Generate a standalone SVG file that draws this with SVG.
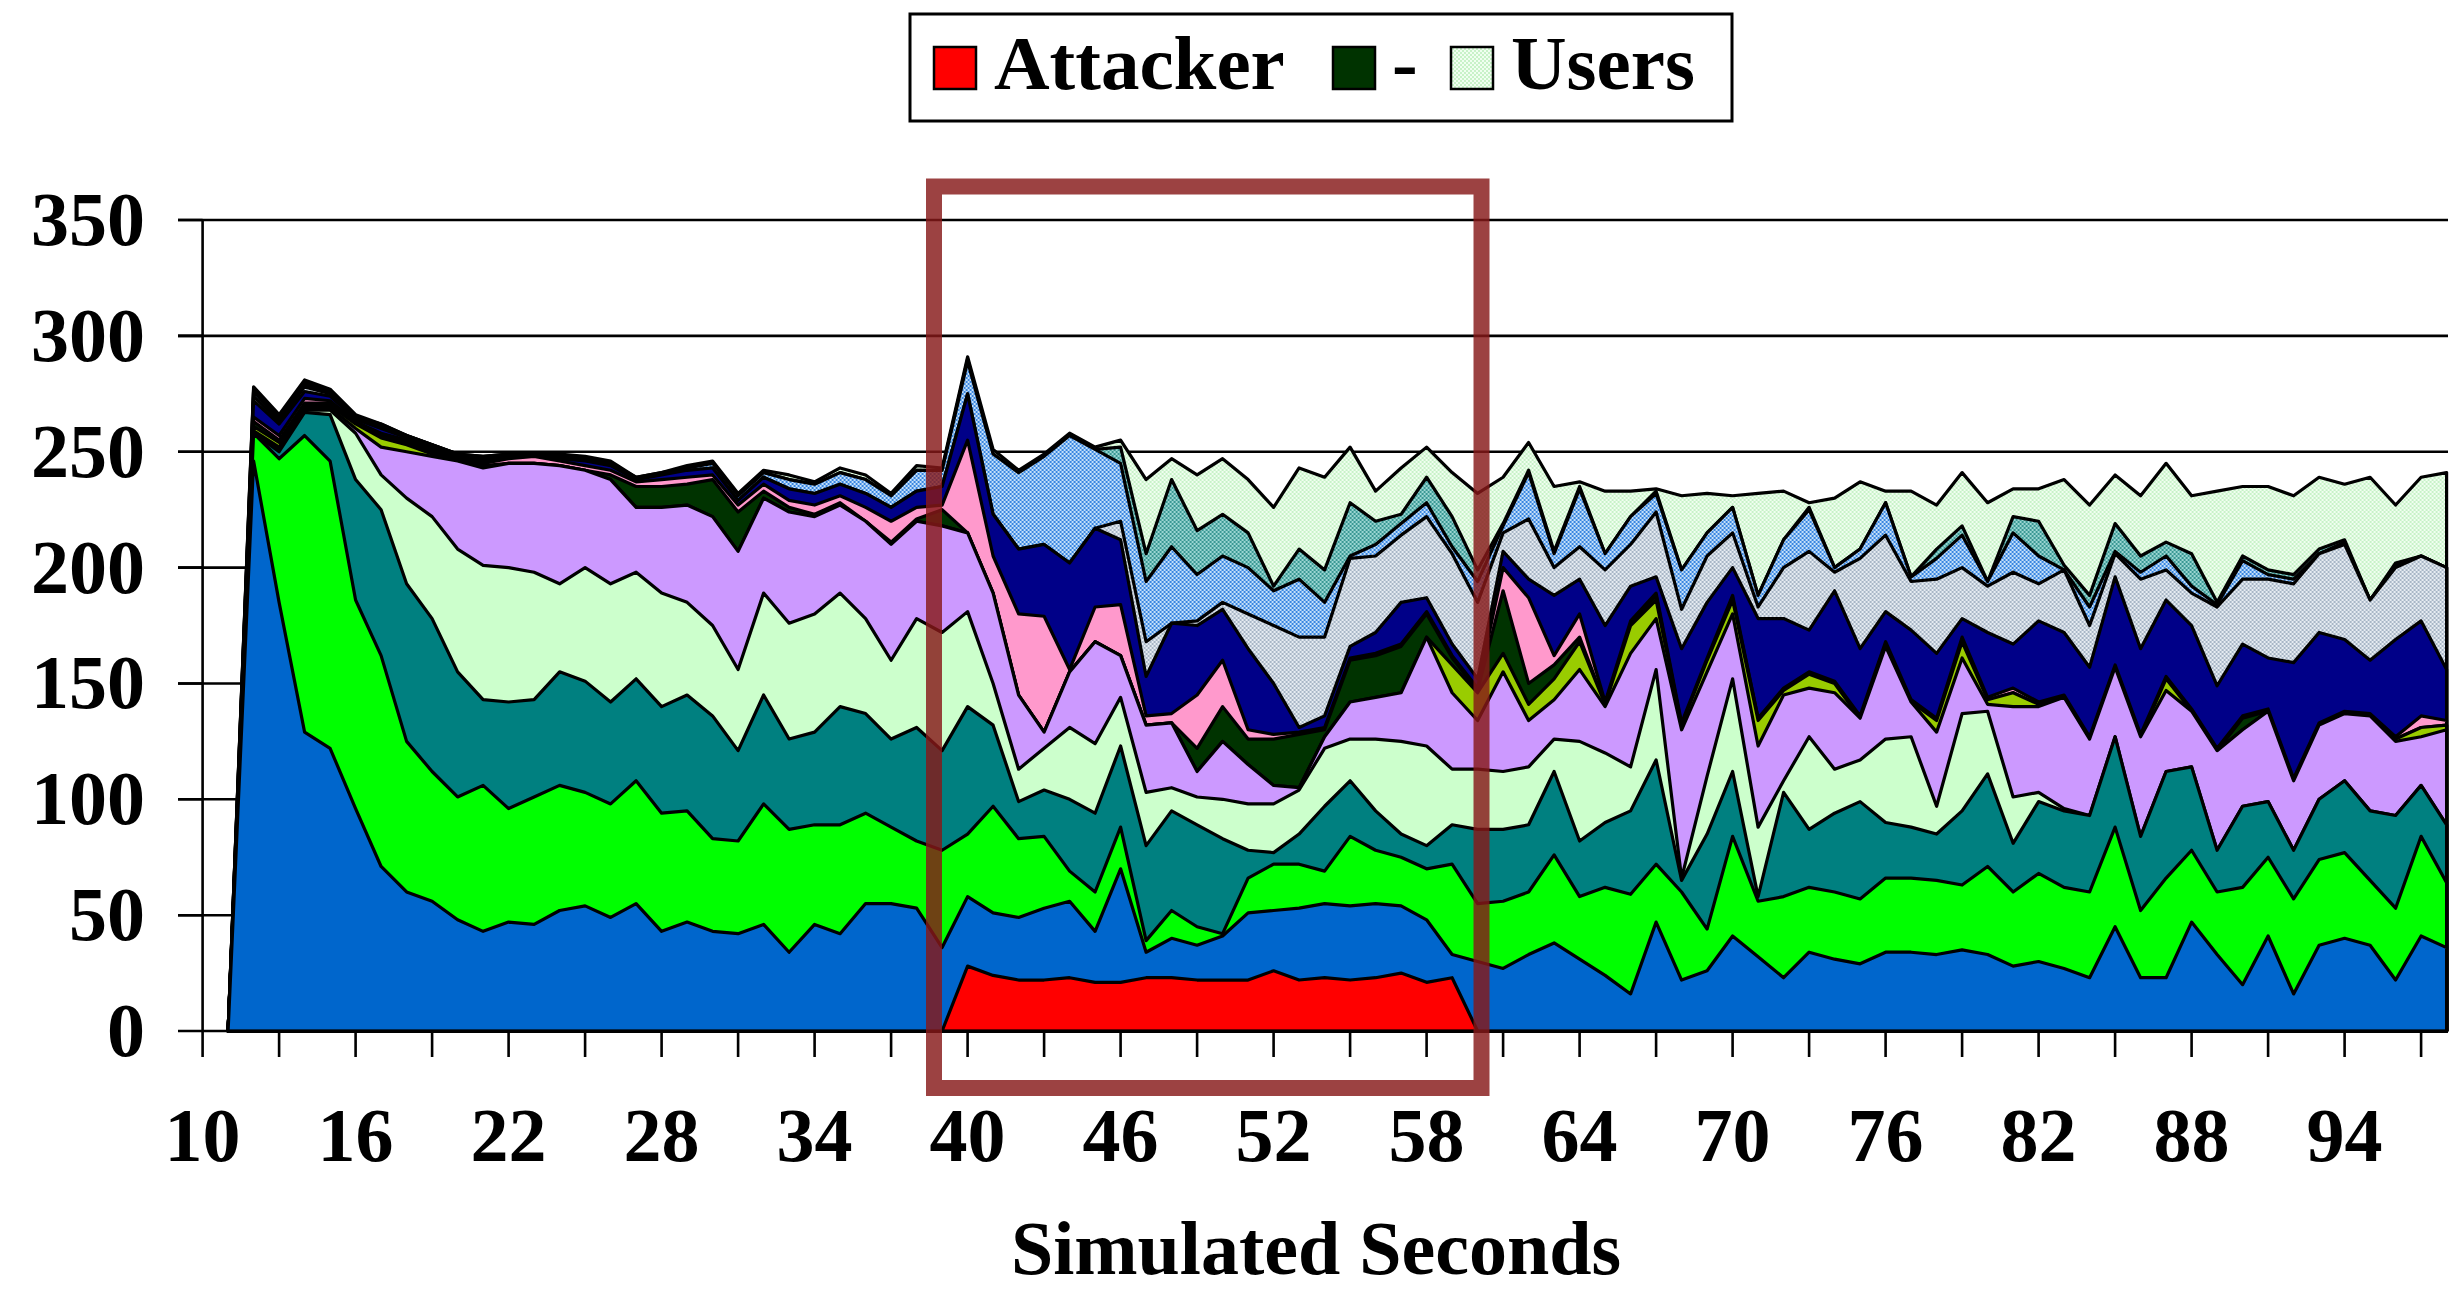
<svg xmlns="http://www.w3.org/2000/svg" width="2454" height="1292" viewBox="0 0 2454 1292">
<defs>
<style>
text{font-family:"Liberation Serif","Times New Roman",serif;font-weight:bold;fill:#000}
.ax{font-size:76px}
.lg{font-size:77px}
.ar{stroke:#000;stroke-width:3.2;stroke-linejoin:round}
.gl{stroke:#000;stroke-width:2.6;fill:none}
</style>
<pattern id="pUsers" patternUnits="userSpaceOnUse" width="4" height="4" patternTransform="scale(0.0392157,-0.4315926)"><rect width="4" height="4" fill="#F0FFF0"/><rect width="2" height="2" fill="#C8F2C8"/><rect x="2" y="2" width="2" height="2" fill="#C8F2C8"/></pattern>
<pattern id="pTeal" patternUnits="userSpaceOnUse" width="4" height="4" patternTransform="scale(0.0392157,-0.4315926)"><rect width="4" height="4" fill="#9AD6D2"/><rect width="2" height="2" fill="#3A9894"/><rect x="2" y="2" width="2" height="2" fill="#3A9894"/></pattern>
<pattern id="pBlue" patternUnits="userSpaceOnUse" width="4" height="4" patternTransform="scale(0.0392157,-0.4315926)"><rect width="4" height="4" fill="#C4E0FA"/><rect width="2" height="2" fill="#3A86E0"/><rect x="2" y="2" width="2" height="2" fill="#3A86E0"/></pattern>
<pattern id="pGray" patternUnits="userSpaceOnUse" width="4" height="4" patternTransform="scale(0.0392157,-0.4315926)"><rect width="4" height="4" fill="#E6ECF2"/><rect width="2" height="2" fill="#A8B6C6"/><rect x="2" y="2" width="2" height="2" fill="#A8B6C6"/></pattern>
<pattern id="pUsersL" patternUnits="userSpaceOnUse" width="4" height="4"><rect width="4" height="4" fill="#F0FFF0"/><rect width="2" height="2" fill="#C8F2C8"/><rect x="2" y="2" width="2" height="2" fill="#C8F2C8"/></pattern>
</defs>
<rect width="2454" height="1292" fill="#fff"/>

<g id="gridlines">
<path class="gl" d="M178,220H2448M178,335.9H2448M178,451.7H2448M178,567.6H2448M178,683.5H2448M178,799.3H2448M178,915.2H2448"/>
</g>

<g id="series" transform="translate(202.6,1031) scale(25.5,-2.317) translate(-10,0)">
<polygon id="s14" class="ar" vector-effect="non-scaling-stroke" fill="url(#pUsers)" points="11,0 12,278 13,266 14,281 15,277 16,266 17,262 18,257 19,253 20,249 21,248 22,249 23,249 24,249 25,248 26,246 27,239 28,241 29,244 30,246 31,232 32,242 33,240 34,237 35,243 36,240 37,232 38,244 39,243 40,291 41,251 42,242 43,249 44,258 45,252 46,255 47,238 48,247 49,240 50,247 51,238 52,226 53,243 54,239 55,252 56,233 57,243 58,252 59,241 60,232 61,239 62,254 63,235 64,237 65,233 66,233 67,234 68,231 69,232 70,231 71,232 72,233 73,228 74,230 75,237 76,233 77,233 78,227 79,241 80,228 81,234 82,234 83,238 84,227 85,240 86,231 87,245 88,231 89,233 90,235 91,235 92,231 93,239 94,236 95,239 96,227 97,239 98,241 98,0"/>
<polygon id="s13" class="ar" vector-effect="non-scaling-stroke" fill="url(#pTeal)" points="11,0 12,277 13,265 14,280 15,276 16,265 17,262 18,257 19,253 20,249 21,248 22,249 23,249 24,248 25,247 26,245 27,239 28,241 29,243 30,245 31,231 32,241 33,238 34,236 35,241 36,238 37,231 38,242 39,242 40,290 41,249 42,241 43,248 44,257 45,251 46,252 47,206 48,238 49,216 50,223 51,215 52,192 53,208 54,199 55,228 56,220 57,223 58,239 59,222 60,199 61,219 62,242 63,207 64,235 65,206 66,222 67,233 68,199 69,215 70,226 71,188 72,212 73,226 74,200 75,208 76,228 77,196 78,208 79,218 80,194 81,222 82,220 83,201 84,188 85,219 86,205 87,211 88,206 89,185 90,205 91,199 92,197 93,208 94,212 95,186 96,202 97,205 98,200 98,0"/>
<polygon id="s12" class="ar" vector-effect="non-scaling-stroke" fill="url(#pBlue)" points="11,0 12,276 13,264 14,279 15,276 16,265 17,261 18,257 19,253 20,249 21,247 22,248 23,248 24,248 25,247 26,245 27,238 28,240 29,243 30,245 31,231 32,241 33,238 34,236 35,241 36,238 37,231 38,242 39,242 40,289 41,249 42,241 43,248 44,257 45,251 46,245 47,194 48,209 49,197 50,205 51,200 52,190 53,195 54,185 55,205 56,210 57,219 58,228 59,209 60,194 61,218 62,241 63,206 64,234 65,206 66,222 67,232 68,199 69,215 70,226 71,188 72,212 73,225 74,200 75,208 76,228 77,196 78,204 79,214 80,194 81,215 82,205 83,199 84,183 85,207 86,198 87,205 88,192 89,184 90,203 91,197 92,195 93,206 94,211 95,186 96,201 97,205 98,200 98,0"/>
<polygon id="s11" class="ar" vector-effect="non-scaling-stroke" fill="url(#pGray)" points="11,0 12,274 13,263 14,278 15,275 16,265 17,261 18,256 19,252 20,248 21,247 22,248 23,248 24,247 25,246 26,244 27,238 28,240 29,242 30,243 31,229 32,239 33,234 34,232 35,236 36,232 37,226 38,233 39,235 40,275 41,223 42,208 43,210 44,202 45,217 46,220 47,168 48,176 49,177 50,185 51,180 52,175 53,170 54,170 55,204 56,205 57,214 58,222 59,206 60,185 61,215 62,221 63,200 64,209 65,199 66,210 67,224 68,182 69,205 70,215 71,183 72,200 73,207 74,198 75,204 76,214 77,194 78,195 79,200 80,192 81,198 82,193 83,199 84,175 85,206 86,195 87,199 88,189 89,183 90,195 91,195 92,193 93,206 94,210 95,186 96,200 97,205 98,200 98,0"/>
<polygon id="s10" class="ar" vector-effect="non-scaling-stroke" fill="#000088" points="11,0 12,272 13,262 14,276 15,274 16,264 17,260 18,256 19,252 20,248 21,246 22,248 23,248 24,247 25,246 26,244 27,238 28,240 29,242 30,243 31,229 32,239 33,234 34,232 35,236 36,232 37,226 38,233 39,235 40,275 41,223 42,208 43,210 44,202 45,217 46,212 47,153 48,176 49,175 50,182 51,165 52,150 53,131 54,136 55,166 56,172 57,185 58,187 59,167 60,152 61,207 62,195 63,188 64,195 65,175 66,192 67,196 68,165 69,185 70,200 71,178 72,178 73,173 74,190 75,165 76,181 77,173 78,163 79,178 80,172 81,167 82,177 83,172 84,157 85,196 86,165 87,186 88,175 89,149 90,167 91,161 92,159 93,172 94,169 95,160 96,169 97,177 98,156 98,0"/>
<polygon id="s9" class="ar" vector-effect="non-scaling-stroke" fill="#FF99CC" points="11,0 12,265 13,257 14,273 15,272 16,263 17,258 18,255 19,251 20,247 21,245 22,247 23,248 24,246 25,244 26,242 27,237 28,238 29,239 30,240 31,227 32,236 33,229 34,227 35,231 36,226 37,220 38,226 39,227 40,255 41,205 42,180 43,179 44,156 45,183 46,184 47,136 48,137 49,145 50,160 51,130 52,128 53,129 54,131 55,161 56,163 57,167 58,181 59,162 60,148 61,200 62,187 63,162 64,180 65,142 66,177 67,189 68,133 69,161 70,188 71,135 72,148 73,155 74,151 75,136 76,168 77,143 78,135 79,170 80,144 81,148 82,142 83,145 84,127 85,158 86,128 87,153 88,139 89,122 90,136 91,139 92,109 93,133 94,138 95,137 96,127 97,136 98,134 98,0"/>
<polygon id="s8" class="ar" vector-effect="non-scaling-stroke" fill="#003300" points="11,0 12,263 13,255 14,271 15,271 16,263 17,257 18,254 19,250 20,247 21,244 22,245 23,245 24,244 25,242 26,240 27,235 28,235 29,236 30,238 31,224 32,233 33,226 34,223 35,228 36,220 37,211 38,221 39,225 40,215 41,189 42,145 43,129 44,155 45,168 46,162 47,132 48,133 49,122 50,140 51,126 52,126 53,128 54,130 55,160 56,162 57,166 58,180 59,161 60,147 61,190 62,150 63,158 64,170 65,141 66,176 67,188 68,132 69,160 70,187 71,135 72,147 73,154 74,150 75,135 76,167 77,142 78,134 79,169 80,143 81,146 82,141 83,144 84,126 85,157 86,127 87,152 88,138 89,121 90,135 91,138 92,108 93,132 94,137 95,136 96,126 97,131 98,132 98,0"/>
<polygon id="s7" class="ar" vector-effect="non-scaling-stroke" fill="#99CC00" points="11,0 12,261 13,254 14,270 15,270 16,262 17,256 18,253 19,249 20,246 21,243 22,245 23,245 24,244 25,242 26,238 27,226 28,226 29,227 30,222 31,207 32,230 33,224 34,222 35,227 36,220 37,210 38,220 39,218 40,215 41,189 42,145 43,129 44,155 45,168 46,162 47,132 48,133 49,112 50,125 51,115 52,106 53,105 54,127 55,142 56,144 57,146 58,170 59,158 60,146 61,163 62,141 63,152 64,168 65,141 66,175 67,186 68,132 69,160 70,186 71,134 72,147 73,154 74,150 75,135 76,167 77,142 78,134 79,168 80,143 81,146 82,141 83,144 84,126 85,157 86,127 87,152 88,138 89,121 90,130 91,138 92,108 93,132 94,137 95,136 96,126 97,131 98,132 98,0"/>
<polygon id="s6" class="ar" vector-effect="non-scaling-stroke" fill="#CC99FF" points="11,0 12,259 13,252 14,269 15,269 16,260 17,252 18,250 19,248 20,246 21,243 22,245 23,245 24,244 25,242 26,238 27,226 28,226 29,227 30,222 31,207 32,230 33,224 34,222 35,227 36,220 37,210 38,220 39,218 40,215 41,189 42,145 43,129 44,155 45,168 46,162 47,132 48,133 49,112 50,125 51,115 52,106 53,105 54,127 55,142 56,144 57,146 58,170 59,146 60,134 61,155 62,134 63,143 64,156 65,140 66,163 67,178 68,130 69,155 70,180 71,123 72,145 73,148 74,146 75,135 76,166 77,142 78,129 79,161 80,141 81,140 82,140 83,144 84,126 85,157 86,127 87,147 88,138 89,121 90,130 91,138 92,108 93,132 94,137 95,136 96,125 97,127 98,130 98,0"/>
<polygon id="s5" class="ar" vector-effect="non-scaling-stroke" fill="#CCFFCC" points="11,0 12,258 13,251 14,268 15,268 16,258 17,240 18,230 19,222 20,208 21,201 22,200 23,198 24,193 25,200 26,193 27,198 28,189 29,185 30,175 31,156 32,189 33,176 34,180 35,189 36,178 37,160 38,178 39,172 40,181 41,150 42,113 43,122 44,131 45,124 46,144 47,103 48,105 49,101 50,100 51,98 52,98 53,104 54,122 55,126 56,126 57,125 58,123 59,113 60,113 61,112 62,114 63,126 64,125 65,120 66,114 67,156 68,66 69,110 70,152 71,88 72,108 73,127 74,113 75,117 76,126 77,127 78,97 79,137 80,138 81,101 82,103 83,96 84,93 85,127 86,84 87,112 88,114 89,78 90,97 91,99 92,78 93,100 94,108 95,95 96,93 97,106 98,89 98,0"/>
<polygon id="s4" class="ar" vector-effect="non-scaling-stroke" fill="#008080" points="11,0 12,258 13,250 14,267 15,266 16,238 17,225 18,193 19,178 20,155 21,143 22,142 23,143 24,155 25,151 26,142 27,152 28,140 29,145 30,136 31,121 32,145 33,126 34,129 35,140 36,137 37,126 38,131 39,121 40,140 41,132 42,99 43,104 44,100 45,94 46,123 47,80 48,95 49,89 50,83 51,78 52,77 53,85 54,97 55,108 56,95 57,85 58,80 59,89 60,87 61,87 62,89 63,112 64,82 65,90 66,95 67,117 68,65 69,85 70,112 71,58 72,103 73,87 74,94 75,99 76,90 77,88 78,85 79,95 80,111 81,81 82,99 83,95 84,93 85,127 86,84 87,112 88,114 89,78 90,97 91,99 92,78 93,100 94,108 95,95 96,93 97,106 98,89 98,0"/>
<polygon id="s3" class="ar" vector-effect="non-scaling-stroke" fill="#00FF00" points="11,0 12,258 13,247 14,257 15,246 16,186 17,162 18,125 19,112 20,101 21,106 22,96 23,101 24,106 25,103 26,98 27,108 28,94 29,95 30,83 31,82 32,98 33,87 34,89 35,89 36,94 37,88 38,82 39,78 40,85 41,97 42,83 43,84 44,69 45,60 46,88 47,39 48,52 49,45 50,42 51,66 52,72 53,72 54,69 55,84 56,78 57,75 58,70 59,72 60,55 61,56 62,60 63,76 64,58 65,62 66,59 67,72 68,60 69,44 70,84 71,56 72,58 73,62 74,60 75,57 76,66 77,66 78,65 79,63 80,71 81,60 82,68 83,62 84,60 85,88 86,52 87,66 88,78 89,60 90,62 91,75 92,57 93,74 94,77 95,65 96,53 97,84 98,64 98,0"/>
<polygon id="s2" class="ar" vector-effect="non-scaling-stroke" fill="#0066CC" points="11,0 12,246 13,185 14,129 15,122 16,96 17,71 18,60 19,56 20,48 21,43 22,47 23,46 24,52 25,54 26,49 27,55 28,43 29,47 30,43 31,42 32,46 33,34 34,46 35,42 36,55 37,55 38,53 39,36 40,58 41,51 42,49 43,53 44,56 45,43 46,70 47,34 48,40 49,37 50,41 51,51 52,52 53,53 54,55 55,54 56,55 57,54 58,48 59,33 60,30 61,27 62,33 63,38 64,31 65,24 66,16 67,47 68,22 69,26 70,41 71,32 72,23 73,34 74,31 75,29 76,34 77,34 78,33 79,35 80,33 81,28 82,30 83,27 84,23 85,45 86,23 87,23 88,47 89,33 90,20 91,41 92,16 93,37 94,40 95,37 96,22 97,41 98,36 98,0"/>
<polygon id="s1" class="ar" vector-effect="non-scaling-stroke" fill="#FF0000" points="39,0 40,28 41,24 42,22 43,22 44,23 45,21 46,21 47,23 48,23 49,22 50,22 51,22 52,26 53,22 54,23 55,22 56,23 57,25 58,21 59,23 60,0"/>
</g>

<g id="axes">
<path class="gl" d="M202.6,220V1057M178,1031H2448M178,220H202.6M178,335.9H202.6M178,451.7H202.6M178,567.6H202.6M178,683.5H202.6M178,799.3H202.6M178,915.2H202.6"/>
<path class="gl" d="M279.1,1031v26M355.6,1031v26M432.1,1031v26M508.6,1031v26M585.1,1031v26M661.6,1031v26M738.1,1031v26M814.6,1031v26M891.1,1031v26M967.6,1031v26M1044.1,1031v26M1120.6,1031v26M1197.1,1031v26M1273.6,1031v26M1350.1,1031v26M1426.6,1031v26M1503.1,1031v26M1579.6,1031v26M1656.1,1031v26M1732.6,1031v26M1809.1,1031v26M1885.6,1031v26M1962.1,1031v26M2038.6,1031v26M2115.1,1031v26M2191.6,1031v26M2268.1,1031v26M2344.6,1031v26M2421.1,1031v26"/>
<g class="ax" text-anchor="end">
<text x="145" y="245">350</text>
<text x="145" y="361">300</text>
<text x="145" y="477">250</text>
<text x="145" y="593">200</text>
<text x="145" y="708">150</text>
<text x="145" y="824">100</text>
<text x="145" y="940">50</text>
<text x="145" y="1056">0</text>
</g>
<g class="ax" text-anchor="middle">
<text x="202.6" y="1161">10</text>
<text x="355.6" y="1161">16</text>
<text x="508.6" y="1161">22</text>
<text x="661.6" y="1161">28</text>
<text x="814.6" y="1161">34</text>
<text x="967.6" y="1161">40</text>
<text x="1120.6" y="1161">46</text>
<text x="1273.6" y="1161">52</text>
<text x="1426.6" y="1161">58</text>
<text x="1579.6" y="1161">64</text>
<text x="1732.6" y="1161">70</text>
<text x="1885.6" y="1161">76</text>
<text x="2038.6" y="1161">82</text>
<text x="2191.6" y="1161">88</text>
<text x="2344.6" y="1161">94</text>
</g>
<text x="1316" y="1274" text-anchor="middle" style="font-size:76px">Simulated Seconds</text>
</g>

<g id="highlight">
<rect x="934" y="186.5" width="547.5" height="901.5" fill="none" stroke="#861818" stroke-opacity="0.82" stroke-width="16"/>
</g>

<g id="legend">
<rect x="910" y="14" width="822" height="107" fill="#fff" stroke="#000" stroke-width="3"/>
<rect x="934" y="47" width="42" height="42" fill="#FF0000" stroke="#000" stroke-width="2.5"/>
<text class="lg" x="994" y="89">Attacker</text>
<rect x="1333" y="47" width="42" height="42" fill="#003300" stroke="#000" stroke-width="2.5"/>
<text class="lg" x="1392" y="89">-</text>
<rect x="1451" y="47" width="42" height="42" fill="url(#pUsersL)" stroke="#000" stroke-width="2.5"/>
<text class="lg" x="1511" y="89">Users</text>
</g>
</svg>
